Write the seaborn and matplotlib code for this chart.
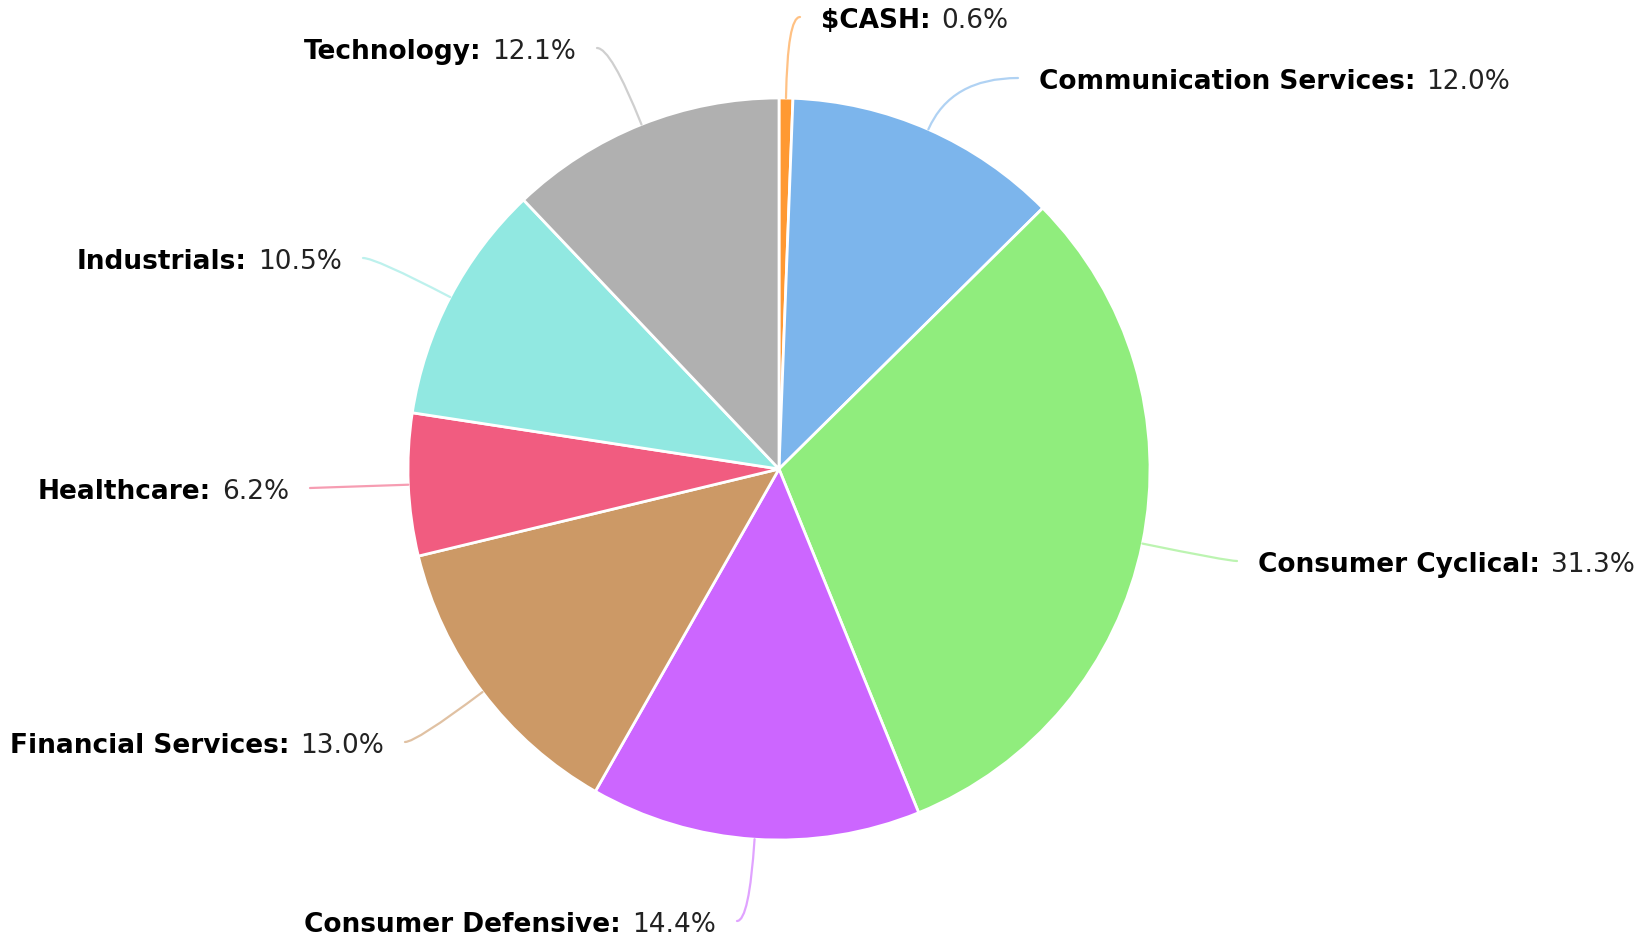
import numpy as np
import seaborn as sns
import matplotlib.pyplot as plt
from matplotlib.offsetbox import TextArea, HPacker, AnnotationBbox

sectors = ["$CASH", "Communication Services", "Consumer Cyclical", "Consumer Defensive",
           "Financial Services", "Healthcare", "Industrials", "Technology"]
weights = [0.6, 12.0, 31.3, 14.4, 13.0, 6.2, 10.5, 12.1]
colors = ["#ff9933", "#7cb5ec", "#90ed7d", "#cc66ff", "#cc9966", "#f15c80", "#91e8e1", "#b0b0b0"]

# layout, in pixels from the top-left corner: where each connector ends
W, H = 1652, 942
cx, cy, R = 779, 469, 371
label_ends = [(800, 17), (1018, 78), (1237, 561), (737, 921),
              (405, 742), (310, 488), (363, 258), (597, 48)]
gap = 21
text_drop = 4

sns.set_theme(style="white")
plt.rcParams['font.family'] = ['DejaVu Sans']

fig = plt.figure(figsize=(W / 100, H / 100), dpi=100)
ax = fig.add_axes([0, 0, 1, 1])

wedges, _ = ax.pie(weights, colors=colors, startangle=90, counterclock=False,
                   center=(cx, H - cy), radius=R,
                   wedgeprops=dict(edgecolor="white", linewidth=2))
ax.set_xlim(0, W)
ax.set_ylim(0, H)
ax.set_aspect("auto")
ax.axis("off")

for w, name, val, col, (ex, ey) in zip(wedges, sectors, weights, colors, label_ends):
    theta = (w.theta1 + w.theta2) / 2
    px = cx + R * np.cos(np.radians(theta))
    py = (H - cy) + R * np.sin(np.radians(theta))
    right = ex > px
    if abs(np.sin(np.radians(theta))) < 0.15:
        style = "arc3,rad=0"
    else:
        style = f"angle3,angleA=0,angleB={theta}"
    ax.annotate("", xy=(px, py), xytext=(ex, H - ey),
                arrowprops=dict(arrowstyle="-", color=col, lw=1.6, alpha=0.6,
                                shrinkA=0, shrinkB=0, connectionstyle=style))
    box = HPacker(children=[
        TextArea(name + ":", textprops=dict(fontsize=19, fontweight="bold", color="black")),
        TextArea(f"{val:.1f}%", textprops=dict(fontsize=19, color="#222222")),
    ], sep=8, align="baseline", pad=0)
    tx = ex + gap if right else ex - gap
    ab = AnnotationBbox(box, (tx, H - ey - text_drop), frameon=False, pad=0,
                        box_alignment=(0, 0.5) if right else (1, 0.5))
    ax.add_artist(ab)

fig.savefig("out.png", dpi=100, facecolor="white")
